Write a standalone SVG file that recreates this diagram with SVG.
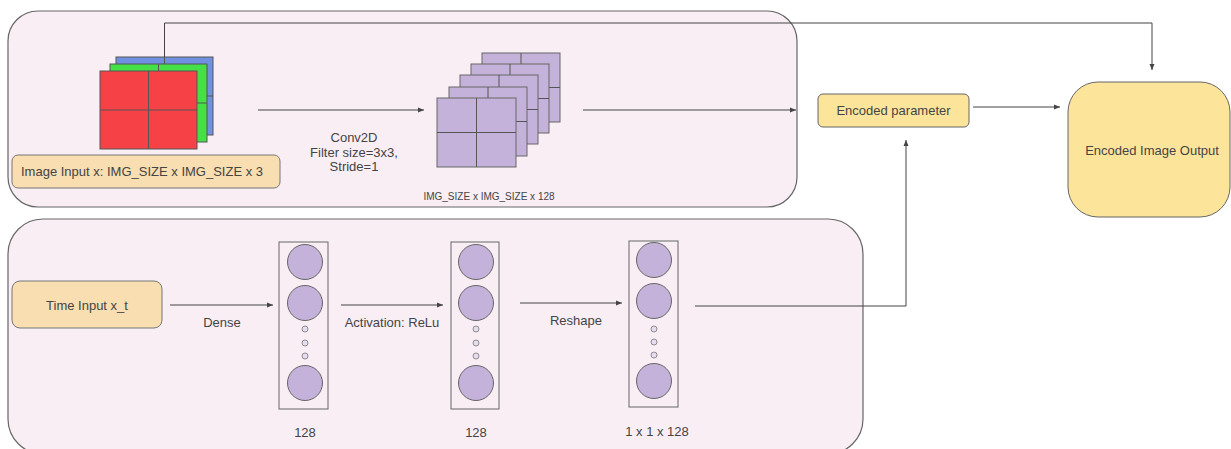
<svg xmlns="http://www.w3.org/2000/svg" width="1231" height="449" viewBox="0 0 1231 449">
<defs>
<marker id="ah" markerUnits="userSpaceOnUse" markerWidth="7" markerHeight="6" refX="6" refY="3" orient="auto">
<path d="M0,0.5 L6,3 L0,5.5 z" fill="#444"/>
</marker>
<style>
.cont{fill:#f8eef4;stroke:#666;stroke-width:1.2}
.peach{fill:#f8deb0;stroke:#777;stroke-width:1}
.gold{fill:#fde49b;stroke:#666;stroke-width:1}
.sq{stroke:#555;stroke-width:1}
.pur{fill:#c4b2da;stroke:#666;stroke-width:1}
.col{fill:none;stroke:#666;stroke-width:1}
.dot{fill:#e6dcef;stroke:#777;stroke-width:0.8}
.grid{stroke:#555;stroke-width:1;fill:none}
.wire{fill:none;stroke:#444;stroke-width:1}
text{font-family:"Liberation Sans",Arial,sans-serif;fill:#444}
.t13{font-size:13px}
.t10{font-size:10px}
.mid{text-anchor:middle}
</style>
</defs>
<rect width="1231" height="449" fill="#ffffff"/>

<g id="image-branch">
<rect class="cont" x="8" y="11" width="789" height="196" rx="30"/>
</g>
<g id="time-branch">
<rect class="cont" x="8" y="219" width="855" height="235" rx="35"/>
</g>

<g id="image-input">
<rect class="sq" x="116" y="57" width="97" height="78" fill="#7191e0"/>
<line class="grid" x1="164.5" y1="57" x2="164.5" y2="135"/>
<line class="grid" x1="116" y1="96" x2="213" y2="96"/>
<rect class="sq" x="110" y="64" width="97" height="78" fill="#45e046"/>
<line class="grid" x1="158.5" y1="64" x2="158.5" y2="142"/>
<line class="grid" x1="110" y1="103" x2="207" y2="103"/>
<rect class="sq" x="100" y="71" width="97" height="78" fill="#f64146"/>
<line class="grid" x1="148.5" y1="71" x2="148.5" y2="149"/>
<line class="grid" x1="100" y1="110" x2="197" y2="110"/>
</g>
<g id="image-input-label">
<rect class="peach" x="12" y="155" width="268" height="33" rx="6"/>
<text class="t13" x="21" y="176">Image Input x: IMG_SIZE x IMG_SIZE x 3</text>
</g>

<g id="conv-output">
<rect class="pur" x="482" y="53" width="78" height="69"/>
<line class="grid" x1="521" y1="53" x2="521" y2="122"/><line class="grid" x1="482" y1="87.5" x2="560" y2="87.5"/>
<rect class="pur" x="471" y="64" width="78" height="69"/>
<line class="grid" x1="510" y1="64" x2="510" y2="133"/><line class="grid" x1="471" y1="98.5" x2="549" y2="98.5"/>
<rect class="pur" x="460" y="75" width="78" height="69"/>
<line class="grid" x1="499" y1="75" x2="499" y2="144"/><line class="grid" x1="460" y1="109.5" x2="538" y2="109.5"/>
<rect class="pur" x="449" y="87" width="78" height="69"/>
<line class="grid" x1="488" y1="87" x2="488" y2="156"/><line class="grid" x1="449" y1="121.5" x2="527" y2="121.5"/>
<rect class="pur" x="437" y="98" width="79" height="69"/>
<line class="grid" x1="476.5" y1="98" x2="476.5" y2="167"/><line class="grid" x1="437" y1="132.5" x2="516" y2="132.5"/>
<text class="t10 mid" x="489" y="200">IMG_SIZE x IMG_SIZE x 128</text>
</g>

<g id="encoded-parameter">
<rect class="gold" x="818" y="94" width="151" height="33" rx="5"/>
<text class="t13 mid" x="893.5" y="115">Encoded parameter</text>
</g>

<g id="encoded-image-output">
<rect class="gold" x="1068" y="82" width="162" height="135" rx="30"/>
<text class="t13 mid" x="1152" y="155">Encoded Image Output</text>
</g>

<g id="time-input">
<rect class="peach" x="12" y="281" width="150" height="47" rx="8"/>
<text class="t13 mid" x="87" y="310">Time Input x_t</text>
</g>

<g id="dense-layer">
<rect class="col" x="279" y="242" width="49" height="167"/>
<circle class="pur" cx="305" cy="262" r="17.5"/>
<circle class="pur" cx="305" cy="303" r="17.5"/>
<circle class="dot" cx="305" cy="329" r="3"/>
<circle class="dot" cx="305" cy="343" r="3"/>
<circle class="dot" cx="305" cy="356" r="3"/>
<circle class="pur" cx="305" cy="383" r="17.5"/>
<text class="t13 mid" x="305" y="437">128</text>
</g>

<g id="relu-layer">
<rect class="col" x="451" y="242" width="48" height="167"/>
<circle class="pur" cx="476" cy="262" r="17.5"/>
<circle class="pur" cx="476" cy="303" r="17.5"/>
<circle class="dot" cx="476" cy="329" r="3"/>
<circle class="dot" cx="476" cy="343" r="3"/>
<circle class="dot" cx="476" cy="356" r="3"/>
<circle class="pur" cx="476" cy="383" r="17.5"/>
<text class="t13 mid" x="476" y="437">128</text>
</g>

<g id="reshape-layer">
<rect class="col" x="629" y="241" width="49" height="166"/>
<circle class="pur" cx="654" cy="260" r="17.5"/>
<circle class="pur" cx="654" cy="301" r="17.5"/>
<circle class="dot" cx="654" cy="329" r="3"/>
<circle class="dot" cx="654" cy="342" r="3"/>
<circle class="dot" cx="654" cy="355" r="3"/>
<circle class="pur" cx="654" cy="381" r="17.5"/>
<text class="t13 mid" x="657" y="436">1 x 1 x 128</text>
</g>

<g id="connectors">
<path class="wire" d="M164.5,57 V23 H1152 V70" marker-end="url(#ah)"/>
<line class="wire" x1="258" y1="110" x2="424" y2="110" marker-end="url(#ah)"/>
<line class="wire" x1="583" y1="110" x2="796" y2="110" marker-end="url(#ah)"/>
<line class="wire" x1="973" y1="107" x2="1060" y2="107" marker-end="url(#ah)"/>
<line class="wire" x1="170" y1="305" x2="273" y2="305" marker-end="url(#ah)"/>
<line class="wire" x1="341" y1="305" x2="443" y2="305" marker-end="url(#ah)"/>
<line class="wire" x1="520" y1="303" x2="622" y2="303" marker-end="url(#ah)"/>
<path class="wire" d="M695,306 H906 V140" marker-end="url(#ah)"/>
<text class="t13 mid" x="354" y="142">Conv2D</text>
<text class="t13 mid" x="354" y="157">Filter size=3x3,</text>
<text class="t13 mid" x="354" y="171">Stride=1</text>
<text class="t13 mid" x="222" y="327">Dense</text>
<text class="t13 mid" x="392" y="327">Activation: ReLu</text>
<text class="t13 mid" x="576" y="325">Reshape</text>
</g>
</svg>
